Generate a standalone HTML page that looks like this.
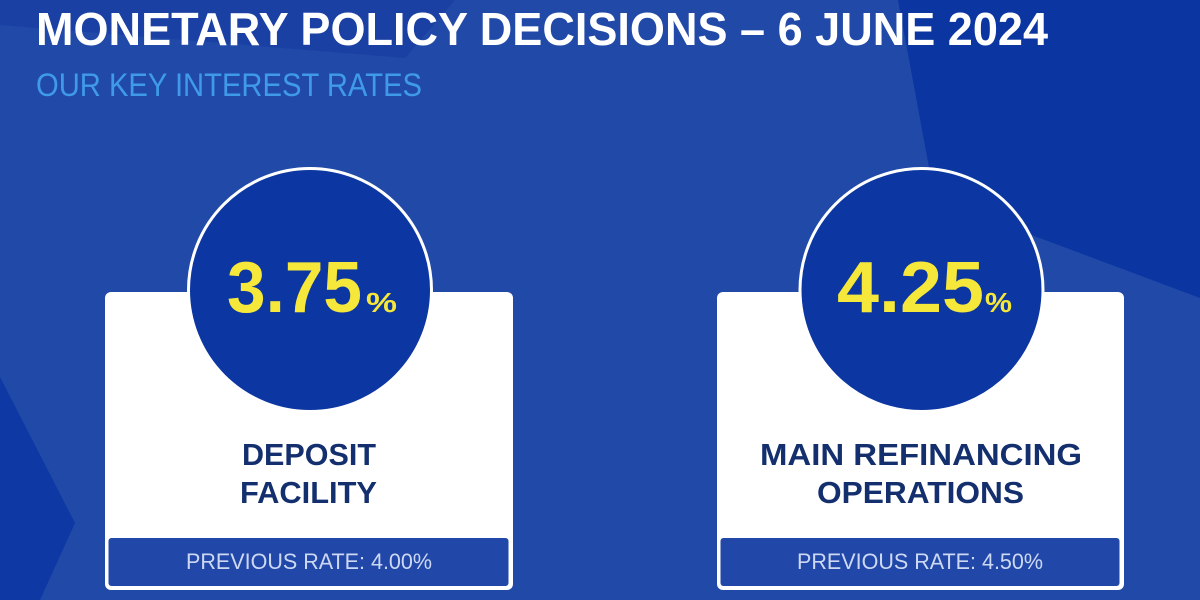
<!DOCTYPE html>
<html><head><meta charset="utf-8"><style>
html,body{margin:0;padding:0;width:1200px;height:600px;overflow:hidden;background:#2149a8}
svg{display:block}
text{font-family:"Liberation Sans",sans-serif}
</style></head><body>
<svg width="1200" height="600" viewBox="0 0 1200 600" xmlns="http://www.w3.org/2000/svg">
<rect x="0" y="0" width="1200" height="600" fill="#2149a8"/>
<polygon points="0,0 455,0 405,58 0,25" fill="#1a40a4"/>
<polygon points="898,0 1200,0 1200,298 1045,240 935,200" fill="#0b36a2"/>
<polygon points="0,377 75,523 40,600 0,600" fill="#0e38a3"/>
<text x="36" y="45" font-size="46" font-weight="bold" fill="#ffffff" textLength="1012" lengthAdjust="spacingAndGlyphs">MONETARY POLICY DECISIONS – 6 JUNE 2024</text>
<text x="36" y="96" font-size="32" fill="#3f9be9" textLength="386" lengthAdjust="spacingAndGlyphs">OUR KEY INTEREST RATES</text>

<!-- left card -->
<rect x="105" y="292" width="408" height="298" rx="6" fill="#ffffff"/>
<rect x="108.5" y="538" width="400" height="48" rx="3" fill="#2147a8"/>
<circle cx="310" cy="290" r="121.5" fill="#0c36a1" stroke="#ffffff" stroke-width="3"/>
<text x="227" y="312" font-size="72" font-weight="bold" fill="#f5e83a" textLength="135" lengthAdjust="spacingAndGlyphs">3.75</text>
<text x="366" y="312" font-size="28" font-weight="bold" fill="#f5e83a" textLength="31" lengthAdjust="spacingAndGlyphs">%</text>
<text x="242" y="465" font-size="31" font-weight="bold" fill="#142f6e" textLength="134" lengthAdjust="spacingAndGlyphs">DEPOSIT</text>
<text x="240" y="503" font-size="31" font-weight="bold" fill="#142f6e" textLength="137" lengthAdjust="spacingAndGlyphs">FACILITY</text>
<text x="186" y="569" font-size="22" fill="#cdd9f3" textLength="246" lengthAdjust="spacingAndGlyphs">PREVIOUS RATE: 4.00%</text>

<!-- right card -->
<rect x="717" y="292" width="407" height="298" rx="6" fill="#ffffff"/>
<rect x="720.5" y="538" width="399" height="48" rx="3" fill="#2147a8"/>
<circle cx="921.5" cy="290" r="121.5" fill="#0c36a1" stroke="#ffffff" stroke-width="3"/>
<text x="837" y="312" font-size="72" font-weight="bold" fill="#f5e83a" textLength="147" lengthAdjust="spacingAndGlyphs">4.25</text>
<text x="985" y="312" font-size="28" font-weight="bold" fill="#f5e83a" textLength="27" lengthAdjust="spacingAndGlyphs">%</text>
<text x="760" y="465" font-size="31" font-weight="bold" fill="#142f6e" textLength="322" lengthAdjust="spacingAndGlyphs">MAIN REFINANCING</text>
<text x="817" y="503" font-size="31" font-weight="bold" fill="#142f6e" textLength="207" lengthAdjust="spacingAndGlyphs">OPERATIONS</text>
<text x="797" y="569" font-size="22" fill="#cdd9f3" textLength="246" lengthAdjust="spacingAndGlyphs">PREVIOUS RATE: 4.50%</text>
</svg>
</body></html>
